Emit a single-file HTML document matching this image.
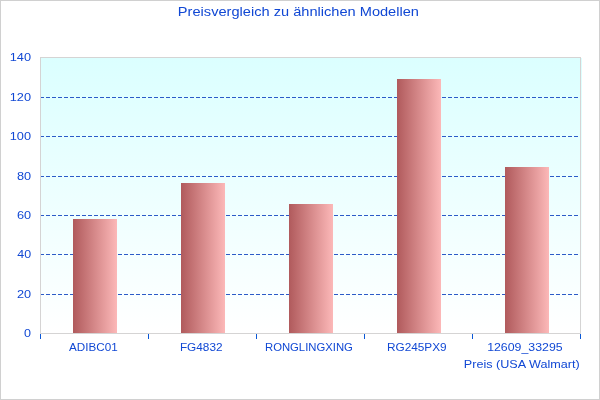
<!DOCTYPE html>
<html><head><meta charset="utf-8">
<style>
html,body{margin:0;padding:0;background:#fff;}
body{width:600px;height:400px;overflow:hidden;}
svg{display:block;will-change:transform;}
text{font-family:"Liberation Sans",sans-serif;fill:#1148d4;}
</style></head>
<body>
<svg width="600" height="400" viewBox="0 0 600 400">
<defs>
<linearGradient id="bg" x1="0" y1="0" x2="0" y2="1">
<stop offset="0" stop-color="#dbffff"/>
<stop offset="1" stop-color="#ffffff"/>
</linearGradient>
<linearGradient id="bar" x1="0" y1="0" x2="1" y2="0">
<stop offset="0" stop-color="#b05a5c"/>
<stop offset="1" stop-color="#fcb8b8"/>
</linearGradient>
</defs>
<rect x="0" y="0" width="600" height="400" fill="#fff"/>
<rect x="0.5" y="0.5" width="599" height="399" fill="none" stroke="#d0d0d0" stroke-width="1" shape-rendering="crispEdges"/>
<rect x="41" y="58" width="541" height="275" fill="url(#bg)"/>
<g stroke="#2c5bc8" stroke-width="1" stroke-dasharray="4 2" shape-rendering="crispEdges">
<line x1="40" y1="97.5" x2="580" y2="97.5"/>
<line x1="40" y1="136.5" x2="580" y2="136.5"/>
<line x1="40" y1="176.5" x2="580" y2="176.5"/>
<line x1="40" y1="215.5" x2="580" y2="215.5"/>
<line x1="40" y1="254.5" x2="580" y2="254.5"/>
<line x1="40" y1="294.5" x2="580" y2="294.5"/>
</g>
<g shape-rendering="crispEdges">
<rect x="73" y="219" width="44" height="114" fill="url(#bar)"/>
<rect x="181" y="183" width="44" height="150" fill="url(#bar)"/>
<rect x="289" y="204" width="44" height="129" fill="url(#bar)"/>
<rect x="397" y="79" width="44" height="254" fill="url(#bar)"/>
<rect x="505" y="167" width="44" height="166" fill="url(#bar)"/>
</g>
<rect x="40.5" y="57.5" width="540" height="276" fill="none" stroke="#d5d4d4" stroke-width="1" shape-rendering="crispEdges"/>
<g stroke="#0a58d6" stroke-width="1" shape-rendering="crispEdges">
<line x1="40.5" y1="334" x2="40.5" y2="339"/>
<line x1="148.5" y1="334" x2="148.5" y2="339"/>
<line x1="256.5" y1="334" x2="256.5" y2="339"/>
<line x1="364.5" y1="334" x2="364.5" y2="339"/>
<line x1="472.5" y1="334" x2="472.5" y2="339"/>
<line x1="580.5" y1="334" x2="580.5" y2="339"/>
</g>
<text x="177.88" y="16" font-size="13" textLength="241.11" lengthAdjust="spacingAndGlyphs">Preisvergleich zu ähnlichen Modellen</text>
<text x="9.73" y="61" font-size="11" textLength="21.29" lengthAdjust="spacingAndGlyphs">140</text>
<text x="9.73" y="101" font-size="11" textLength="21.29" lengthAdjust="spacingAndGlyphs">120</text>
<text x="9.73" y="140" font-size="11" textLength="21.29" lengthAdjust="spacingAndGlyphs">100</text>
<text x="17.02" y="180" font-size="11" textLength="14.16" lengthAdjust="spacingAndGlyphs">80</text>
<text x="17.02" y="219" font-size="11" textLength="14.16" lengthAdjust="spacingAndGlyphs">60</text>
<text x="17.32" y="258" font-size="11" textLength="13.85" lengthAdjust="spacingAndGlyphs">40</text>
<text x="17.02" y="298" font-size="11" textLength="14.16" lengthAdjust="spacingAndGlyphs">20</text>
<text x="24.03" y="337" font-size="11" textLength="7.00" lengthAdjust="spacingAndGlyphs">0</text>
<text x="69.00" y="351" font-size="11" textLength="48.65" lengthAdjust="spacingAndGlyphs">ADIBC01</text>
<text x="179.93" y="351" font-size="11" textLength="42.61" lengthAdjust="spacingAndGlyphs">FG4832</text>
<text x="264.97" y="351" font-size="11" textLength="87.88" lengthAdjust="spacingAndGlyphs">RONGLINGXING</text>
<text x="386.93" y="351" font-size="11" textLength="59.78" lengthAdjust="spacingAndGlyphs">RG245PX9</text>
<text x="487.16" y="351" font-size="11" textLength="75.45" lengthAdjust="spacingAndGlyphs">12609<tspan dy="1">_</tspan><tspan dy="-1">33295</tspan></text>
<text x="463.85" y="368" font-size="11" textLength="115.77" lengthAdjust="spacingAndGlyphs">Preis (USA Walmart)</text>
</svg>
</body></html>
